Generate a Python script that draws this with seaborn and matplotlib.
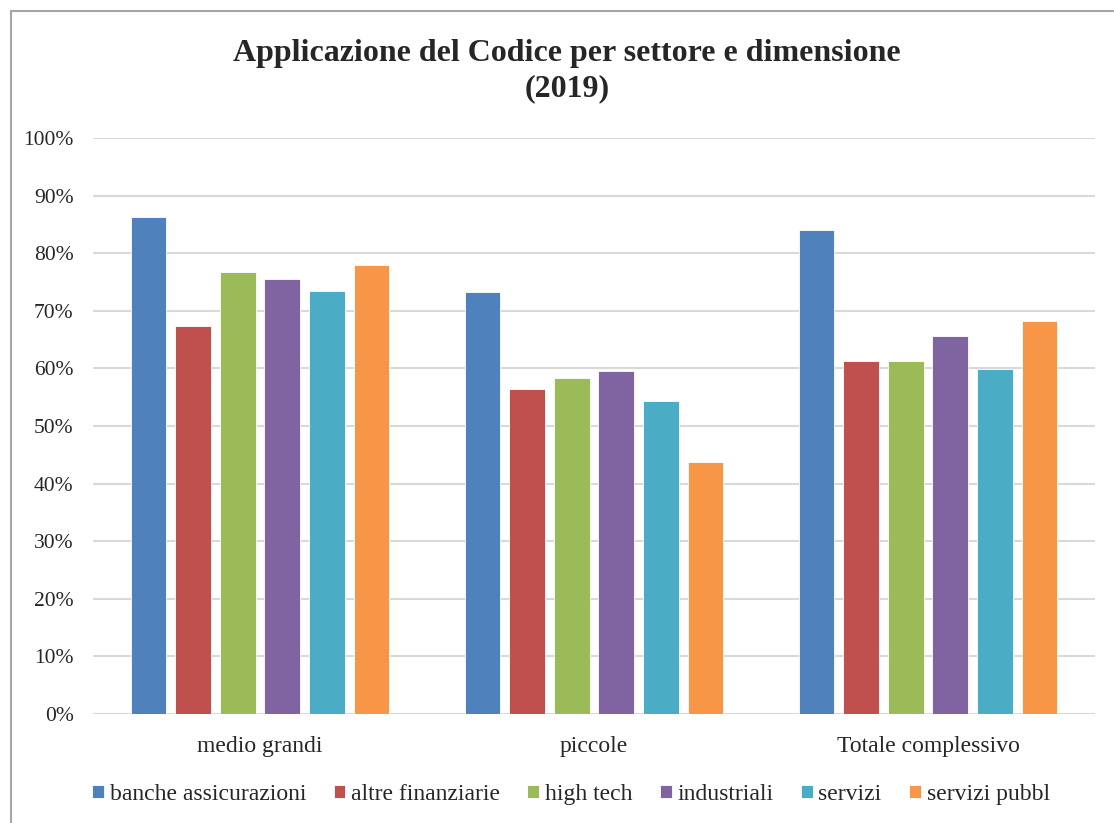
import pandas as pd
import seaborn as sns
import matplotlib.pyplot as plt
from matplotlib.patches import Rectangle
from matplotlib.ticker import PercentFormatter

groups = ['medio grandi', 'piccole', 'Totale complessivo']
sectors = ['banche assicurazioni', 'altre finanziarie', 'high tech',
           'industriali', 'servizi', 'servizi pubbl']
banche = [86.2, 73.3, 84.1]
altre_fin = [67.4, 56.4, 61.3]
high_tech = [76.7, 58.3, 61.3]
industriali = [75.5, 59.5, 65.7]
servizi = [73.4, 54.3, 59.9]
servizi_pubbl = [78.0, 43.7, 68.2]
colors = ['#4F81BD', '#C0504D', '#9BBB59', '#8064A2', '#4BACC6', '#F79646']

# long table for seaborn
series = [banche, altre_fin, high_tech, industriali, servizi, servizi_pubbl]
rows = []
for name, vals in zip(sectors, series):
    for g, v in zip(groups, vals):
        rows.append({'gruppo': g, 'settore': name, 'valore': v})
df = pd.DataFrame(rows)

sns.set_style('white')
plt.rcParams['font.family'] = ['Liberation Serif', 'DejaVu Serif']

fig = plt.figure(figsize=(11.14, 8.23), dpi=100)
ax = fig.add_axes([93 / 1114, 1 - 714 / 823, 1002 / 1114, 576 / 823])

sns.barplot(data=df, x='gruppo', y='valore', hue='settore', order=groups,
            hue_order=sectors, palette=colors, width=0.8, gap=0.2,
            saturation=1, edgecolor='white', linewidth=0.6, ax=ax, zorder=3)

ax.set_ylim(0, 100)
ax.set_yticks(range(0, 101, 10))
ax.yaxis.set_major_formatter(PercentFormatter(decimals=0))
ax.set_xlim(-0.5, 2.5)
ax.grid(axis='y', color='#D9D9D9', linewidth=1.5, zorder=0)
ax.set_axisbelow(True)
for s in ax.spines.values():
    s.set_visible(False)
ax.tick_params(axis='y', length=0, pad=14, labelsize=15.5, colors='#262626')
ax.tick_params(axis='x', length=0, pad=16, labelsize=17, colors='#262626')
ax.set_xlabel('')
ax.set_ylabel('')

fig.text(0.509, 1 - 53 / 823, 'Applicazione del Codice per settore e dimensione',
         ha='center', va='center', fontsize=23, fontweight='bold')
fig.text(0.509, 1 - 89 / 823, '(2019)', ha='center', va='center',
         fontsize=23, fontweight='bold')

ax.legend(loc='center', bbox_to_anchor=(0.477, -0.14), ncol=6, frameon=False,
          fontsize=17, handlelength=0.5, handleheight=0.5,
          handletextpad=0.25, columnspacing=1.15)

fig.patches.append(Rectangle((11 / 1114, -0.05), 1.2, 1 - 11 / 823 + 0.05,
                             transform=fig.transFigure, fill=False,
                             edgecolor='#A6A6A6', linewidth=1.5))

fig.savefig('out.png', dpi=100, facecolor='white')
